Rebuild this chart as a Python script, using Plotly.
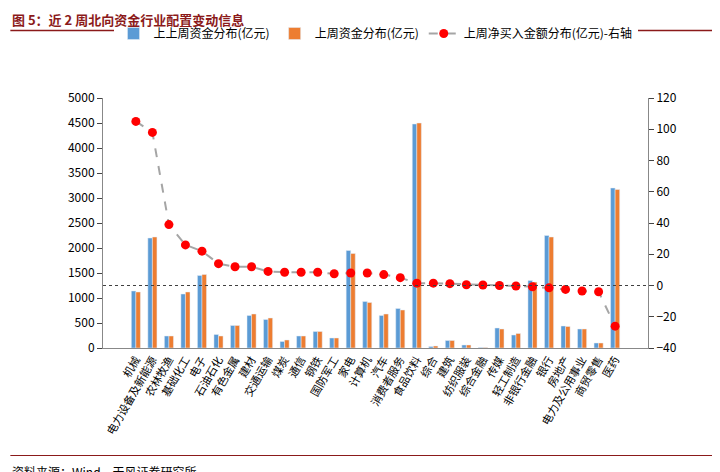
import plotly.graph_objects as go

industries = ["机械", "电力设备及新能源", "农林牧渔", "基础化工", "电子", "石油石化", "有色金属", "建材",
              "交通运输", "煤炭", "通信", "钢铁", "国防军工", "家电", "计算机", "汽车", "消费者服务",
              "食品饮料", "综合", "建筑", "纺织服装", "综合金融", "传媒", "轻工制造", "非银行金融",
              "银行", "房地产", "电力及公用事业", "商贸零售", "医药"]
prev2_week = [1140, 2200, 240, 1080, 1450, 270, 450, 650, 570, 130, 240, 330, 200, 1950, 930, 650, 790,
              4480, 30, 150, 60, 10, 400, 260, 1350, 2250, 440, 380, 100, 3200]
prev_week = [1120, 2220, 240, 1120, 1470, 240, 450, 680, 600, 160, 240, 330, 200, 1890, 910, 680, 760,
             4500, 40, 150, 60, 10, 380, 290, 1320, 2220, 430, 380, 100, 3170]
net_buy = [105, 98, 39, 26, 22, 14, 12, 12, 9, 8.5, 8.5, 8.5, 7.5, 8, 8, 7, 5, 1.5, 1.5, 1.2, 0.5, 0.3,
           0, -0.3, -0.8, -1.5, -2.5, -3.5, -4, -26]

fig = go.Figure()
fig.add_trace(go.Bar(x=industries, y=prev2_week, name="上上周资金分布(亿元)", marker_color="#5B9BD5"))
fig.add_trace(go.Bar(x=industries, y=prev_week, name="上周资金分布(亿元)", marker_color="#ED7D31"))
fig.add_trace(go.Scatter(x=industries, y=net_buy, name="上周净买入金额分布(亿元)-右轴", yaxis="y2",
                         mode="lines+markers", line=dict(color="#A5A5A5", dash="dash", width=2),
                         marker=dict(color="#FF0000", size=9)))

fig.add_shape(type="line", xref="paper", yref="y", x0=0, x1=1, y0=1250, y1=1250,
              line=dict(color="#404040", width=1, dash="dot"))
fig.add_shape(type="line", xref="paper", yref="paper", x0=-0.17, x1=1.13, y0=1.27, y1=1.27,
              line=dict(color="#8B1A1A", width=1.5))
fig.add_shape(type="line", xref="paper", yref="paper", x0=-0.17, x1=1.13, y0=-0.43, y1=-0.43,
              line=dict(color="#8B1A1A", width=1))

fig.add_annotation(text="<b>图 5：近 2 周北向资金行业配置变动信息</b>", xref="paper", yref="paper",
                   x=-0.17, y=1.36, xanchor="left", yanchor="top", showarrow=False,
                   font=dict(size=13, color="#8B1A1A"))
fig.add_annotation(text="资料来源：Wind，天风证券研究所", xref="paper", yref="paper",
                   x=-0.17, y=-0.45, xanchor="left", yanchor="top", showarrow=False,
                   font=dict(size=12, color="#000"))

fig.update_layout(
    width=720, height=472,
    font=dict(family="Noto Sans CJK SC", size=12, color="#000"),
    paper_bgcolor="white", plot_bgcolor="white",
    margin=dict(l=95, r=80, t=90, b=132, autoexpand=False),
    barmode="group", bargap=0.45, bargroupgap=0,
    legend=dict(orientation="h", x=0.5, xanchor="center", y=1.2, yanchor="bottom", font=dict(size=12)),
    xaxis=dict(tickangle=-60, tickfont=dict(size=11), showline=True, linecolor="#888", automargin=False),
    yaxis=dict(range=[0, 5000], dtick=500, showgrid=False, showline=True, linecolor="#888",
               ticks="outside", tickformat="d", automargin=False),
    yaxis2=dict(range=[-40, 120], dtick=20, overlaying="y", side="right", showgrid=False,
                showline=True, linecolor="#888", ticks="outside", automargin=False),
)
fig.write_html("out.html")
